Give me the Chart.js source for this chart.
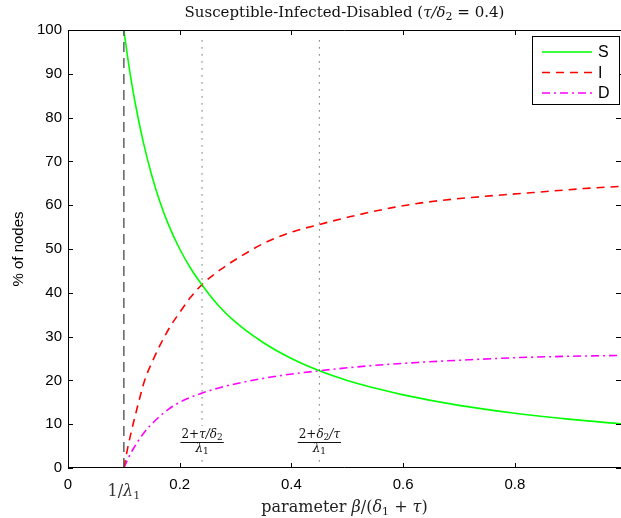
<!DOCTYPE html>
<html>
<head>
<meta charset="utf-8">
<script src="https://cdn.jsdelivr.net/npm/chart.js@4.4.1/dist/chart.umd.min.js"></script>
<style>
  html, body { margin: 0; padding: 0; background: #fff; }
  #wrap { width: 621px; height: 518px; }
</style>
</head>
<body>
<div id="wrap"><canvas id="grafico" width="621" height="518"></canvas></div>
<script>
// Dados
const seriesNames = ['S', 'I', 'D'];

const sX = [0.1, 0.11, 0.12, 0.135, 0.15, 0.165, 0.18, 0.2, 0.22, 0.24, 0.27, 0.3, 0.35, 0.4, 0.45, 0.5, 0.56, 0.6, 0.7, 0.8, 0.9, 0.99];
const sY = [100, 91, 83.5, 74.3, 66.8, 60.6, 55.5, 50, 45.5, 41.8, 37, 33.3, 28.6, 25, 22.2, 20, 17.9, 16.7, 14.3, 12.5, 11.1, 10.1];

const iX = [0.1, 0.105, 0.111, 0.124, 0.138, 0.151, 0.165, 0.183, 0.201, 0.219, 0.24, 0.273, 0.309, 0.357, 0.404, 0.45, 0.506, 0.583, 0.655, 0.744, 0.834, 0.924, 0.99];
const iY = [0, 3.4, 7.0, 13.8, 20.3, 24.3, 28.1, 32.3, 35.7, 38.9, 41.9, 45.3, 48.3, 51.7, 54.0, 55.6, 57.4, 59.5, 60.9, 62.0, 62.9, 63.8, 64.3];

const dX = [0.1, 0.108, 0.117, 0.135, 0.16, 0.183, 0.213, 0.24, 0.273, 0.326, 0.386, 0.45, 0.536, 0.626, 0.716, 0.805, 0.895, 0.99];
const dY = [0, 2.3, 4.4, 7.9, 11.3, 13.7, 15.8, 17.1, 18.4, 19.9, 21.2, 22.2, 23.3, 24.1, 24.7, 25.2, 25.5, 25.7];

// linhas verticais de referência (1/λ1, (2+τ/δ2)/λ1, (2+δ2/τ)/λ1)
const thresholdX = 0.1;
const markerX = [0.24, 0.45];

const xTicks = [0, 0.2, 0.4, 0.6, 0.8];
const yTicks = [0, 10, 20, 30, 40, 50, 60, 70, 80, 90, 100];

const SANS = '"Liberation Sans", Arial, sans-serif';
const SERIF = '"DejaVu Serif", "Liberation Serif", serif';

const toPts = (xs, ys) => xs.map((x, k) => ({ x: x, y: ys[k] }));

// desenha texto com trechos em fontes diferentes (itálico, subscrito)
function drawRuns(ctx, runs, x, y, align) {
    let total = 0;
    runs.forEach(r => { ctx.font = r.f; total += ctx.measureText(r.t).width; });
    let cx = align === 'center' ? x - total / 2 : (align === 'right' ? x - total : x);
    ctx.textAlign = 'left';
    ctx.textBaseline = 'alphabetic';
    runs.forEach(r => {
        ctx.font = r.f;
        ctx.fillText(r.t, cx, y + (r.dy || 0));
        cx += ctx.measureText(r.t).width;
    });
    return total;
}

const framePlugin = {
    id: 'frame',
    afterDatasetsDraw(chart) {
        const ctx = chart.ctx;
        const a = chart.chartArea;
        const xs = chart.scales.x, ys = chart.scales.y;
        ctx.save();

        // anotações das frações
        const fracs = [
            [{ t: '2+', f: '12px ' + SERIF }, { t: 'τ/δ', f: 'italic 12px ' + SERIF }, { t: '2', f: '9px ' + SERIF, dy: 2 }],
            [{ t: '2+', f: '12px ' + SERIF }, { t: 'δ', f: 'italic 12px ' + SERIF }, { t: '2', f: '9px ' + SERIF, dy: 2 }, { t: '/τ', f: 'italic 12px ' + SERIF }]
        ];
        markerX.forEach((mx, k) => {
            const px = xs.getPixelForValue(mx);
            ctx.fillStyle = '#fff';
            ctx.fillRect(px - 26, 426, 52, 30);
            ctx.fillStyle = '#111';
            const w = drawRuns(ctx, fracs[k], px, 438, 'center');
            ctx.fillRect(px - w / 2 - 1, 442, w + 2, 1);
            drawRuns(ctx, [{ t: 'λ', f: 'italic 12px ' + SERIF }, { t: '1', f: '9px ' + SERIF, dy: 2 }], px, 452, 'center');
        });

        // moldura (a borda direita fica fora do recorte)
        ctx.strokeStyle = '#000';
        ctx.lineWidth = 1;
        ctx.beginPath();
        ctx.moveTo(a.right, a.top + 0.5);
        ctx.lineTo(a.left + 0.5, a.top + 0.5);
        ctx.lineTo(a.left + 0.5, a.bottom - 0.5);
        ctx.lineTo(a.right, a.bottom - 0.5);
        ctx.stroke();

        // marcas para dentro
        ctx.beginPath();
        xTicks.forEach(v => {
            const px = Math.round(xs.getPixelForValue(v)) + 0.5;
            ctx.moveTo(px, a.bottom); ctx.lineTo(px, a.bottom - 5);
            ctx.moveTo(px, a.top); ctx.lineTo(px, a.top + 5);
        });
        yTicks.forEach(v => {
            const py = Math.round(ys.getPixelForValue(v)) + 0.5;
            ctx.moveTo(a.left, py); ctx.lineTo(a.left + 5, py);
            ctx.moveTo(a.right, py); ctx.lineTo(a.right - 5, py);
        });
        ctx.stroke();

        // legenda
        const lx = 532, ly = 36, lw = 87, lh = 68;
        ctx.fillStyle = '#fff';
        ctx.fillRect(lx, ly, lw, lh);
        ctx.strokeRect(lx + 0.5, ly + 0.5, lw, lh);
        const legStyles = [
            { c: '#00ff00', d: [] },
            { c: '#ff0000', d: [8, 6] },
            { c: '#ff00ff', d: [8, 4, 2, 4] }
        ];
        seriesNames.forEach((nome, k) => {
            const yy = ly + 16 + k * 20.5;
            ctx.strokeStyle = legStyles[k].c;
            ctx.lineWidth = 1.6;
            ctx.setLineDash(legStyles[k].d);
            ctx.beginPath();
            ctx.moveTo(542, yy); ctx.lineTo(592, yy);
            ctx.stroke();
            ctx.setLineDash([]);
            ctx.fillStyle = '#000';
            ctx.font = '16px ' + SANS;
            ctx.textAlign = 'left';
            ctx.textBaseline = 'middle';
            ctx.fillText(nome, 598, yy + 1);
        });

        // título
        ctx.fillStyle = '#111';
        drawRuns(ctx, [
            { t: 'Susceptible-Infected-Disabled (', f: '15px ' + SERIF },
            { t: 'τ/δ', f: 'italic 15px ' + SERIF },
            { t: '2', f: '11px ' + SERIF, dy: 3 },
            { t: ' = 0.4)', f: '15px ' + SERIF }
        ], (a.left + a.right) / 2, 17, 'center');

        // rótulo 1/λ1 no eixo x
        ctx.fillStyle = '#333';
        drawRuns(ctx, [
            { t: '1/', f: '16px ' + SERIF },
            { t: 'λ', f: 'italic 16px ' + SERIF },
            { t: '1', f: '11px ' + SERIF, dy: 3 }
        ], xs.getPixelForValue(thresholdX), 496, 'center');

        // título do eixo x
        ctx.fillStyle = '#222';
        drawRuns(ctx, [
            { t: 'parameter ', f: '16px ' + SERIF },
            { t: 'β', f: 'italic 16px ' + SERIF },
            { t: '/(', f: '16px ' + SERIF },
            { t: 'δ', f: 'italic 16px ' + SERIF },
            { t: '1', f: '11px ' + SERIF, dy: 3 },
            { t: ' + ', f: '16px ' + SERIF },
            { t: 'τ', f: 'italic 16px ' + SERIF },
            { t: ')', f: '16px ' + SERIF }
        ], (a.left + a.right) / 2, 512, 'center');

        // título do eixo y
        ctx.save();
        ctx.fillStyle = '#000';
        ctx.translate(19, (a.top + a.bottom) / 2);
        ctx.rotate(-Math.PI / 2);
        ctx.font = '15px ' + SANS;
        ctx.textAlign = 'center';
        ctx.textBaseline = 'middle';
        ctx.fillText('% of nodes', 0, 0);
        ctx.restore();

        ctx.restore();
    }
};

const ctx = document.getElementById('grafico').getContext('2d');
new Chart(ctx, {
    type: 'scatter',
    data: {
        datasets: [
            {
                label: 'limiar',
                data: [{ x: thresholdX, y: 0 }, { x: thresholdX, y: 100 }],
                showLine: true, borderColor: '#555', borderWidth: 1.4,
                borderDash: [10, 6], pointRadius: 0
            },
            ...markerX.map(mx => ({
                label: 'marca',
                data: [{ x: mx, y: 1.5 }, { x: mx, y: 99 }],
                showLine: true, borderColor: '#222', borderWidth: 1,
                borderDash: [1, 6], pointRadius: 0
            })),
            {
                label: seriesNames[0], data: toPts(sX, sY),
                showLine: true, borderColor: '#00ff00', borderWidth: 1.6,
                pointRadius: 0, cubicInterpolationMode: 'monotone'
            },
            {
                label: seriesNames[1], data: toPts(iX, iY),
                showLine: true, borderColor: '#ff0000', borderWidth: 1.6,
                borderDash: [8, 6], pointRadius: 0, cubicInterpolationMode: 'monotone'
            },
            {
                label: seriesNames[2], data: toPts(dX, dY),
                showLine: true, borderColor: '#ff00ff', borderWidth: 1.6,
                borderDash: [8, 4, 2, 4], pointRadius: 0, cubicInterpolationMode: 'monotone'
            }
        ]
    },
    options: {
        responsive: false,
        animation: false,
        layout: { padding: { top: 30, right: 0, left: 0, bottom: 0 } },
        plugins: {
            legend: { display: false },
            tooltip: { enabled: false }
        },
        scales: {
            x: {
                type: 'linear', min: 0, max: 0.99,
                afterFit: s => { s.height = 50; },
                afterBuildTicks: s => { s.ticks = xTicks.map(v => ({ value: v })); },
                grid: { display: false, drawTicks: false },
                border: { display: false },
                ticks: {
                    color: '#000', padding: 8,
                    font: { family: SANS, size: 15 },
                    callback: v => String(Math.round(v * 10) / 10)
                }
            },
            y: {
                type: 'linear', min: 0, max: 100,
                afterFit: s => { s.width = 68; },
                afterBuildTicks: s => { s.ticks = yTicks.map(v => ({ value: v })); },
                grid: { display: false, drawTicks: false },
                border: { display: false },
                ticks: {
                    color: '#000', padding: 6,
                    font: { family: SANS, size: 15 }
                }
            }
        }
    },
    plugins: [framePlugin]
});
</script>
</body>
</html>
